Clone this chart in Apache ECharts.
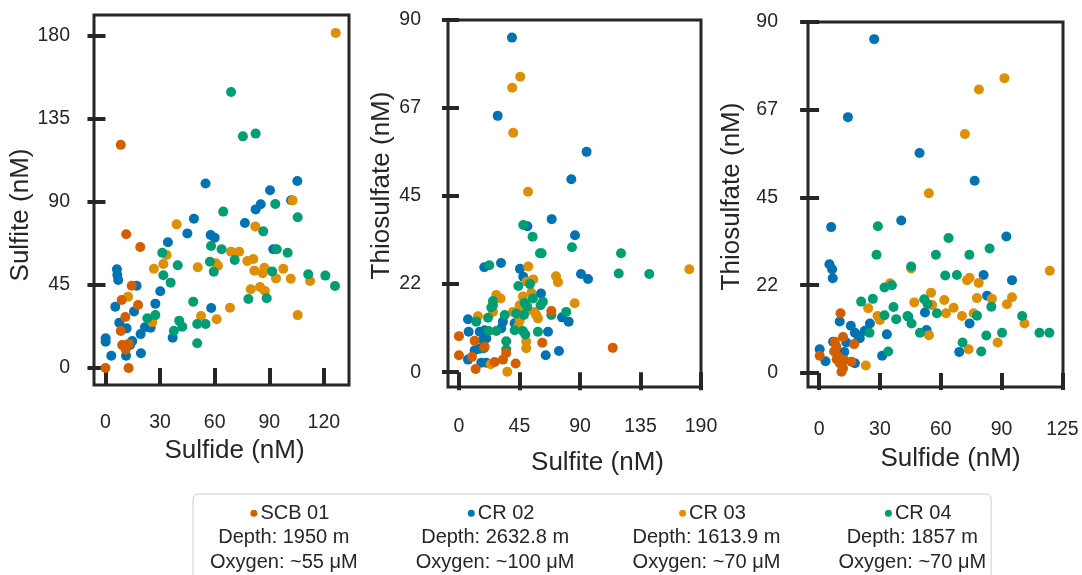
<!DOCTYPE html>
<html>
<head>
<meta charset="utf-8">
<script src="https://cdn.jsdelivr.net/npm/echarts@6/dist/echarts.min.js"></script>
<style>
html,body{margin:0;padding:0;background:#fff;}
#chart{width:1082px;height:575px;}
</style>
</head>
<body>
<div id="chart"></div>
<script>
// ---------- legend / station info ----------
const stations = ['SCB 01', 'CR 02', 'CR 03', 'CR 04'];
const depths = ['Depth: 1950 m', 'Depth: 2632.8 m', 'Depth: 1613.9 m', 'Depth: 1857 m'];
const oxygen = ['Oxygen: ~55 μM', 'Oxygen: ~100 μM', 'Oxygen: ~70 μM', 'Oxygen: ~70 μM'];
const colors = ['#d55e00', '#0173b2', '#de8f05', '#029e73'];

// ---------- tick values and labels ----------
const p1XTicks = [0, 30, 60, 90, 120];
const p1XLabels = ['0', '30', '60', '90', '120'];
const p1YTicks = [0, 45, 90, 135, 180];
const p1YLabels = ['0', '45', '90', '135', '180'];
const p2XTicks = [0, 47.5, 95, 142.5, 190];
const p2XLabels = ['0', '45', '90', '135', '190'];
const p2YTicks = [0, 22.5, 45, 67.5, 90];
const p2YLabels = ['0', '22', '45', '67', '90'];
const p3XTicks = [0, 31.25, 62.5, 93.75, 125];
const p3XLabels = ['0', '30', '60', '90', '125'];
const p3YTicks = [0, 22.5, 45, 67.5, 90];
const p3YLabels = ['0', '22', '45', '67', '90'];

// ---------- Panel 1: Sulfide (x) vs Sulfite (y) ----------
const p1_SCB01 = [[0,0],[8.4,20.1],[8.4,121],[8.9,36.9],[9.2,12.5],[10.9,27.7],[11.1,10.1],[11.4,72.5],[12,12.8],[12.7,0],[12.9,13],[14.4,44.6],[17.9,34.2],[19.1,65.6]];
const p1_CR02 = [[0.1,16.1],[0.1,14.3],[3.2,6.7],[5.4,33.2],[6.3,53.5],[6.5,50.4],[7,47.7],[7.6,24.6],[11.3,6.7],[11.6,21.5],[13.5,12.5],[14.7,14.6],[15.7,30.7],[17.1,44.6],[19.3,18.4],[19.5,8],[21.7,22.1],[24.8,21.9],[27.4,34.9],[30.1,41.6],[34.3,68.2],[36.9,16.4],[45,73],[48.6,81],[55,100],[57.8,72.1],[58.1,32.5],[60,70.7],[76.6,78.6],[82.5,86],[85.3,88.8],[90.4,96.4],[92.2,64.4],[102,91],[105.4,101.4]];
const p1_CR03 = [[12.4,38.7],[25.7,24.9],[26.6,53.8],[31.8,56.4],[33.6,61.3],[39.1,77.9],[50.7,54.6],[52.5,28.2],[60.7,56.8],[61.8,55.5],[61.1,26.4],[68.4,32.7],[69,63.1],[73.4,63.1],[77.9,58],[79.8,42.7],[81.2,59.1],[81.8,52.8],[82.3,76.8],[84.9,43.9],[86.4,51.4],[87.3,54.4],[87.6,41.8],[93.7,48.6],[97.7,53.8],[101.8,48.4],[102.8,90.9],[105.6,28.7],[112.4,47.2],[126.5,181.7]];
const p1_CR04 = [[23,27],[27.4,28.7],[31.2,62.5],[31.8,50.3],[35.8,46.3],[37.6,20.2],[39.7,55.7],[40.5,25.7],[42.2,22.4],[48.2,36],[50.4,23.9],[50.4,13.4],[55,23.9],[57.4,57.6],[58,66.2],[59.5,52.2],[63.8,64.4],[64.7,84.8],[69,149.7],[71,58.6],[75.5,125.6],[78.5,37.4],[82.5,127.1],[86.7,74.1],[88.6,37.8],[91.6,52.4],[93.3,88.9],[94.1,64.4],[100.1,62.5],[105.6,81.7],[111.4,50.8],[120.8,50.1],[126.1,44.5]];

// ---------- Panel 2: Sulfite (x) vs Thiosulfate (y) ----------
const p2_SCB01 = [[0,9.2],[0,4.3],[10.2,3.9],[12.3,8],[13.1,0.8],[20.2,6.5],[28,2.6],[34.5,3.2],[37.1,4.9],[44.5,2.2],[65.4,7.5],[72.5,15.6],[120.7,6.2]];
const p2_CR02 = [[7.1,13.5],[7.6,10.3],[7.1,3.2],[12.3,5.6],[16.3,10.3],[16.3,6],[17.5,2.4],[18.8,8.2],[19.9,26.8],[20.2,10.7],[21.4,8.6],[21.4,2.4],[30.4,65.5],[33,27.9],[33.2,11.2],[34.5,12.9],[41.6,85.5],[43.7,12.5],[47.9,26.4],[50.5,24.4],[51.6,17.4],[53.7,37.3],[64.4,20.1],[68.1,4.3],[69.9,10.3],[72.8,39.1],[78.5,5.4],[80.9,14],[86.1,12.9],[88.2,49.3],[91.1,35],[95.8,25.1],[100.2,56.3],[101.3,23.8]];
const p2_CR03 = [[14.9,14.3],[24.9,2],[26.7,15.4],[29.3,19.7],[32.7,18.8],[37.9,0.1],[41.8,72.7],[42.4,15.4],[42.6,61.2],[46.3,11.6],[47.6,17.1],[47.6,13.1],[48.1,75.5],[50.2,19.3],[50.2,16.3],[52.8,7.8],[52.8,6.1],[53.1,23.1],[54.2,46.1],[54.2,15.9],[54.4,27],[56.8,20.3],[58.3,23.7],[59.4,15.4],[60.7,14.6],[62,13.7],[76.2,24.5],[77.7,23],[90.8,17.6],[180.8,26.3]];
const p2_CR04 = [[13.6,12.9],[19.6,6.1],[22.8,13.9],[23.3,10.5],[23.8,27.3],[25.4,16.5],[26.7,18.2],[26.7,17.1],[29.3,10.5],[35.9,14.6],[37.1,7.9],[37.1,5.8],[43.7,10.7],[45,15],[46.6,22],[50.2,10.5],[50.5,37.6],[51,14.6],[51.6,17.7],[52.1,9.6],[53.6,16.7],[55.7,22.5],[57.8,34.6],[58.1,18.8],[62,10.3],[63.6,30.4],[64.1,17.1],[64.9,30.4],[65.9,18],[72.5,14.6],[84.2,15.4],[88.7,31.9],[125.4,25.2],[127.2,30.4],[149.4,25.1]];

// ---------- Panel 3: Sulfide (x) vs Thiosulfate (y) ----------
const p3_SCB01 = [[0.3,4.4],[7.7,5.5],[8.1,8],[8.9,6.7],[9,3.5],[9.8,4.2],[10.6,2.5],[11,15.3],[11.5,0.3],[12.3,9.2],[12.3,1.2],[13,3.3],[16.6,2.9],[18,7.4]];
const p3_CR02 = [[0.3,6.1],[3.3,3],[5.3,27.9],[6.2,37.4],[6.7,26.6],[7,24.3],[7.2,8],[10.6,13.2],[12.9,5.4],[14,7.8],[14.8,65.6],[16.3,12.1],[18.4,10.3],[18.4,2.5],[20.1,9.5],[20.9,8.9],[23.5,10.8],[26.1,12.7],[28.3,85.6],[32.4,4.4],[34.8,9.9],[42.2,39.1],[45.8,14.4],[51.6,56.4],[54.4,15.5],[55.2,11],[72,5.4],[77.3,12.7],[79.9,49.3],[84.5,25.1],[86.3,19.8],[96.2,35],[99.1,23.8]];
const p3_CR03 = [[24,1.9],[25.2,16.6],[30,14.6],[31.2,13.6],[36.5,23],[47.3,26.8],[48.9,18.1],[56.4,46.1],[56.4,9.7],[57.5,20.6],[58.1,17.4],[64.3,18.7],[65.2,15.3],[69.1,16.7],[73.4,14.6],[74.9,61.3],[76,23.8],[76.8,6.1],[77.3,24.4],[79.4,15.3],[81.1,19.2],[82,23.1],[82.1,72.7],[88.8,19],[91.7,7.8],[95.2,75.6],[96.5,17.6],[99.1,19.4],[105.5,12.7],[118.5,26.2]];
const p3_CR04 = [[21.6,18.3],[25.9,10.3],[27.6,19],[29.5,30.3],[30.2,37.6],[33.6,21.9],[33.6,14.8],[35.5,5.5],[37.4,22.5],[38.2,16.9],[39.6,13.8],[45.4,14.6],[47.3,27.3],[47.5,12.7],[51.8,10.3],[54,18.9],[55.7,17.7],[60,30.3],[60.5,15.3],[64.8,25],[66.5,34.6],[70.8,25.1],[73.7,7.8],[77.2,30.3],[81.1,14.7],[83.3,5.5],[85.9,9.6],[87.6,31.9],[88.5,17],[94,10.3],[104.3,14.6],[113.2,10.3],[118.3,10.3]];

const axisTitles = [['Sulfide (nM)', 'Sulfite (nM)'], ['Sulfite (nM)', 'Thiosulfate (nM)'], ['Sulfide (nM)', 'Thiosulfate (nM)']];

// ---------- build option ----------
const FONT = "'Liberation Sans', Arial, Helvetica, sans-serif";
const INK = '#262626';

const panels = [
  { data: [p1_SCB01, p1_CR02, p1_CR03, p1_CR04], xT: p1XTicks, xL: p1XLabels, yT: p1YTicks, yL: p1YLabels,
    grid: { left: 94, top: 15, width: 255, height: 370 }, xr: [-6.3, 133.8], yr: [-9.2, 191.4],
    xo: 2, xtl: 18, xm: 26, yo: 2, ytl: 18, ym: 22, xng: 51, yng: 56, xpad: [0,0,0,26], ypad: [0,30,0,0] },
  { data: [p2_SCB01, p2_CR02, p2_CR03, p2_CR04], xT: p2XTicks, xL: p2XLabels, yT: p2YTicks, yL: p2YLabels,
    grid: { left: 448, top: 20, width: 253, height: 367 }, xr: [-8.6, 190], yr: [-3.8, 90],
    xo: 3, xtl: 18, xm: 27, yo: 3, ytl: 17, ym: 24, xng: 60, yng: 50, xpad: [0,0,0,46], ypad: [0,0,0,36] },
  { data: [p3_SCB01, p3_CR02, p3_CR03, p3_CR04], xT: p3XTicks, xL: p3XLabels, yT: p3YTicks, yL: p3YLabels,
    grid: { left: 808, top: 22, width: 255, height: 365 }, xr: [-5.7, 125.3], yr: [-3.6, 90],
    xo: 5, xtl: 17, xm: 28, yo: 1, ytl: 19, ym: 29, xng: 54, yng: 62, xpad: [0,0,0,30], ypad: [0,0,0,16] }
];

const grids = [], xAxes = [], yAxes = [], series = [];
const drawOrder = [1, 2, 3, 0]; // CR 02 bottom ... SCB 01 top

panels.forEach((p, i) => {
  grids.push(Object.assign({ show: true, borderColor: INK, borderWidth: 3, backgroundColor: 'transparent', containLabel: false }, p.grid));
  const common = (ticks, labels, off, tl, m, ng, pad, title) => ({
    type: 'value', gridIndex: i, offset: off,
    name: title, nameLocation: 'middle', nameGap: ng,
    nameTextStyle: { fontFamily: FONT, fontSize: 26, color: INK, padding: pad },
    axisLine: { show: false },
    splitLine: { show: false },
    axisTick: { show: true, length: tl, lineStyle: { color: INK, width: 4 }, customValues: ticks },
    axisLabel: { show: true, margin: m, fontFamily: FONT, fontSize: 19.5, color: INK, customValues: ticks,
      formatter: v => { const k = ticks.findIndex(t => Math.abs(t - v) < 1e-9); return k >= 0 ? labels[k] : ''; } }
  });
  xAxes.push(Object.assign(common(p.xT, p.xL, p.xo, p.xtl, p.xm, p.xng, p.xpad, axisTitles[i][0]), { position: 'bottom', min: p.xr[0], max: p.xr[1] }));
  yAxes.push(Object.assign(common(p.yT, p.yL, p.yo, p.ytl, p.ym, p.yng, p.ypad, axisTitles[i][1]), { position: 'left', min: p.yr[0], max: p.yr[1] }));
  drawOrder.forEach(j => {
    series.push({
      type: 'scatter', name: stations[j], xAxisIndex: i, yAxisIndex: i,
      data: p.data[j], symbol: 'circle', symbolSize: 10,
      itemStyle: { color: colors[j], opacity: 1 },
      emphasis: { disabled: true }, silent: true
    });
  });
});

const rich = {
  t: { fontFamily: FONT, fontSize: 20, color: INK, align: 'center', lineHeight: 24.5 },
  l: { fontFamily: FONT, fontSize: 20, color: INK, align: 'center', lineHeight: 24.5 },
  sp: { width: 3, align: 'center' },
  pre: { width: 12, align: 'center' }
};
colors.forEach((c, j) => {
  rich['dot' + j] = { width: 7, height: 7, borderRadius: 3.5, backgroundColor: c, align: 'center', verticalAlign: 'middle' };
});

const option = {
  backgroundColor: '#ffffff',
  animation: false,
  grid: grids,
  xAxis: xAxes,
  yAxis: yAxes,
  legend: {
    data: stations,
    orient: 'horizontal',
    left: 193, top: 494,
    padding: [7, 5, 12, 12],
    itemGap: 53,
    itemWidth: 0, itemHeight: 0,
    icon: 'none',
    selectedMode: false,
    backgroundColor: '#ffffff',
    borderColor: '#cccccc', borderWidth: 1, borderRadius: 5,
    textStyle: { fontFamily: FONT, fontSize: 20, color: INK, lineHeight: 24.5, rich: rich },
    formatter: name => {
      const j = stations.indexOf(name);
      return '{pre|}{dot' + j + '|}{sp|}{t|' + name + '}\n{l|' + depths[j] + '}\n{l|' + oxygen[j] + '}';
    }
  },
  series: series
};

const chart = echarts.init(document.getElementById('chart'), null, { renderer: 'canvas' });
chart.setOption(option);
</script>
</body>
</html>
